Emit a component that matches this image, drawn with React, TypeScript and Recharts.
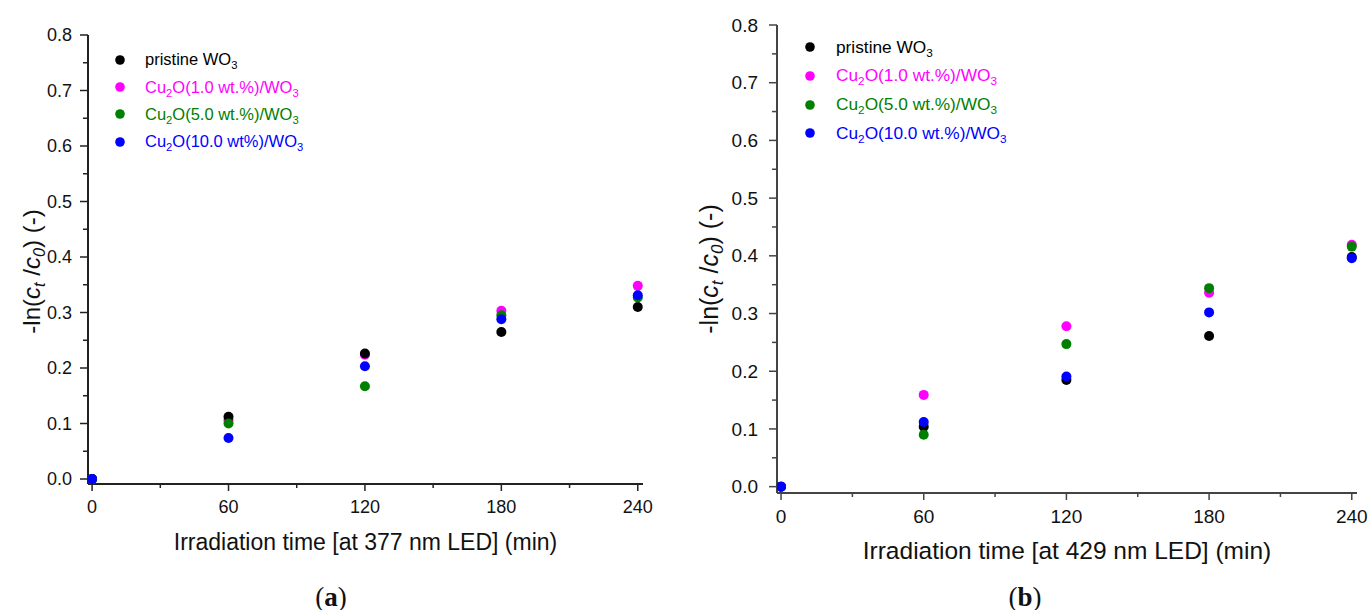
import React from 'react';
import { ScatterChart, Scatter, XAxis, YAxis, Legend } from 'recharts';

// irradiation times (min)
const times = [0, 60, 120, 180, 240];

// panel (a): 377 nm LED
const pristineA = [0, 0.112, 0.226, 0.265, 0.31];
const cu1A = [0, 0.106, 0.224, 0.303, 0.348];
const cu5A = [0, 0.1, 0.167, 0.295, 0.327];
const cu10A = [0, 0.074, 0.203, 0.288, 0.331];

// panel (b): 429 nm LED
const pristineB = [0, 0.104, 0.185, 0.261, 0.398];
const cu1B = [0, 0.159, 0.278, 0.336, 0.419];
const cu5B = [0, 0.09, 0.247, 0.344, 0.416];
const cu10B = [0, 0.112, 0.191, 0.302, 0.396];

// "_x" marks a subscript character
const namesA = ['pristine WO_3', 'Cu_2O(1.0 wt.%)/WO_3', 'Cu_2O(5.0 wt.%)/WO_3', 'Cu_2O(10.0 wt%)/WO_3'];
const namesB = ['pristine WO_3', 'Cu_2O(1.0 wt.%)/WO_3', 'Cu_2O(5.0 wt.%)/WO_3', 'Cu_2O(10.0 wt.%)/WO_3'];
const colors = ['#000000', '#ff00ff', '#008000', '#0000ff'];

const xTicks = [0, 30, 60, 90, 120, 150, 180, 210, 240];
const xMajor = [0, 60, 120, 180, 240];
const yTicks = [0, 0.05, 0.1, 0.15, 0.2, 0.25, 0.3, 0.35, 0.4, 0.45, 0.5, 0.55, 0.6, 0.65, 0.7, 0.75, 0.8];
const yMajor = [0, 0.1, 0.2, 0.3, 0.4, 0.5, 0.6, 0.7, 0.8];

const FONT = '"Liberation Sans", Arial, sans-serif';
const drawOrder = [1, 0, 2, 3];

const toPoints = (vals: number[]) => times.map((t, i) => ({ x: t, y: vals[i] }));

function rich(s: string) {
  const parts = s.split(/_(.)/);
  return parts.map((p, i) =>
    i % 2 ? (
      <span key={i} style={{ fontSize: '0.68em', position: 'relative', top: '0.35em' }}>{p}</span>
    ) : (
      <span key={i}>{p}</span>
    )
  );
}

const XTick = (props: any) => {
  const { x, y, payload, fontSize, stroke, offset } = props;
  const major = xMajor.includes(payload.value);
  const len = major ? 7 : 4;
  return (
    <g>
      <line x1={x} x2={x} y1={y} y2={y + len} stroke={stroke} strokeWidth={1.5} />
      {major && (
        <text x={x} y={y + offset} dy="0.35em" textAnchor="middle" fontSize={fontSize} fill="#111">
          {payload.value}
        </text>
      )}
    </g>
  );
};

const YTick = (props: any) => {
  const { x, y, payload, fontSize, stroke, offset } = props;
  const major = yMajor.some((m) => Math.abs(m - payload.value) < 1e-6);
  const len = major ? 8 : 5;
  return (
    <g>
      <line x1={x} x2={x - len} y1={y} y2={y} stroke={stroke} strokeWidth={1.5} />
      {major && (
        <text x={x - offset} y={y} dy="0.35em" textAnchor="end" fontSize={fontSize} fill="#111">
          {payload.value.toFixed(1)}
        </text>
      )}
    </g>
  );
};

const Dot = (props: any) => <circle cx={props.cx} cy={props.cy} r={5} fill={props.fill} />;

function Panel(p: any) {
  const series = [p.pristine, p.cu1, p.cu5, p.cu10];
  const yLabel = (lp: any) => {
    const vb = lp.viewBox;
    const cy = vb.y + vb.height / 2 + p.yLabelShift;
    const fs = p.yLabelFont;
    const sub = fs * 0.68;
    return (
      <text transform={`translate(${p.yLabelX},${cy}) rotate(-90)`} textAnchor="middle" fontSize={fs} fill="#111">
        <tspan>-ln(</tspan>
        <tspan fontStyle="italic">c</tspan>
        <tspan fontStyle="italic" fontSize={sub} dy={5}>t</tspan>
        <tspan dy={-5}> /</tspan>
        <tspan fontStyle="italic">c</tspan>
        <tspan fontStyle="italic" fontSize={sub} dy={5}>0</tspan>
        <tspan dy={-5}>) (-)</tspan>
      </text>
    );
  };
  const legend = () => (
    <div style={{ fontFamily: FONT, fontSize: p.legendFont }}>
      {p.names.map((n: string, i: number) => (
        <div key={n} style={{ display: 'flex', alignItems: 'center', height: p.legendRow, whiteSpace: 'nowrap' }}>
          <svg width={10} height={10}>
            <circle cx={5} cy={5} r={4.8} fill={colors[i]} />
          </svg>
          <span style={{ marginLeft: p.legendGap, color: colors[i], lineHeight: 1 }}>{rich(n)}</span>
        </div>
      ))}
    </div>
  );
  return (
    <div style={{ position: 'absolute', left: p.left, top: 0 }}>
      <ScatterChart width={p.width} height={610} margin={p.margin} style={{ fontFamily: FONT }}>
        <XAxis
          dataKey="x"
          type="number"
          domain={p.xDomain}
          allowDataOverflow
          ticks={xTicks}
          interval={0}
          tickSize={0}
          tickMargin={0}
          tickLine={false}
          height={66}
          axisLine={{ stroke: p.frame, strokeWidth: 2 }}
          tick={<XTick fontSize={p.tickFont} stroke={p.frame} offset={23} />}
          label={{ value: p.xTitle, position: 'insideBottom', offset: 0, fontSize: p.titleFont, fill: '#111' }}
        />
        <YAxis
          dataKey="y"
          type="number"
          domain={p.yDomain}
          allowDataOverflow
          ticks={yTicks}
          interval={0}
          tickSize={0}
          tickMargin={0}
          tickLine={false}
          width={60}
          axisLine={{ stroke: p.frame, strokeWidth: 2 }}
          tick={<YTick fontSize={p.tickFont} stroke={p.frame} offset={p.yTickOffset} />}
          label={{ content: yLabel }}
        />
        <XAxis xAxisId="top" orientation="top" type="number" domain={p.xDomain} height={0} tick={false} tickLine={false} axisLine={{ stroke: p.frame, strokeWidth: 2 }} />
        <YAxis yAxisId="right" orientation="right" type="number" domain={p.yDomain} width={0} tick={false} tickLine={false} axisLine={{ stroke: p.frame, strokeWidth: 2 }} />
        <Legend
          layout="vertical"
          align="center"
          verticalAlign="middle"
          wrapperStyle={{ left: p.legendLeft, top: p.legendTop, width: 300, height: 130 }}
          content={legend}
        />
        {drawOrder.map((i) => (
          <Scatter
            key={i}
            name={p.names[i]}
            data={toPoints(series[i])}
            fill={colors[i]}
            shape={Dot}
            isAnimationActive={false}
          />
        ))}
      </ScatterChart>
      <div
        style={{
          position: 'absolute',
          left: p.captionX - 50,
          top: 584,
          width: 100,
          textAlign: 'center',
          fontFamily: '"Liberation Serif", serif',
          fontSize: 27,
          lineHeight: '27px',
          color: '#111',
        }}
      >
        (<b>{p.caption}</b>)
      </div>
    </div>
  );
}

export default function App() {
  return (
    <div style={{ position: 'absolute', left: 0, top: 0, width: 1370, height: 610, background: '#fff' }}>
      <Panel
        left={0}
        width={680}
        margin={{ top: 35, right: 37, bottom: 60, left: 28 }}
        xDomain={[-1.8, 242.3]}
        yDomain={[-0.009, 0.8]}
        pristine={pristineA}
        cu1={cu1A}
        cu5={cu5A}
        cu10={cu10A}
        names={namesA}
        xTitle="Irradiation time [at 377 nm LED] (min)"
        tickFont={18}
        titleFont={23}
        yLabelFont={24}
        yLabelX={40}
        yLabelShift={12}
        yTickOffset={16}
        frame="#222"
        legendFont={16.5}
        legendRow={27.3}
        legendGap={20}
        legendLeft={115}
        legendTop={46}
        caption="a"
        captionX={331}
      />
      <Panel
        left={680}
        width={690}
        margin={{ top: 25, right: 13, bottom: 51, left: 37 }}
        xDomain={[-1.7, 242.2]}
        yDomain={[-0.011, 0.8]}
        pristine={pristineB}
        cu1={cu1B}
        cu5={cu5B}
        cu10={cu10B}
        names={namesB}
        xTitle="Irradiation time [at 429 nm LED] (min)"
        tickFont={19}
        titleFont={24.5}
        yLabelFont={25}
        yLabelX={38}
        yLabelShift={10}
        yTickOffset={19}
        frame="#444"
        legendFont={17.3}
        legendRow={28.7}
        legendGap={21}
        legendLeft={125}
        legendTop={33}
        caption="b"
        captionX={345}
      />
    </div>
  );
}
